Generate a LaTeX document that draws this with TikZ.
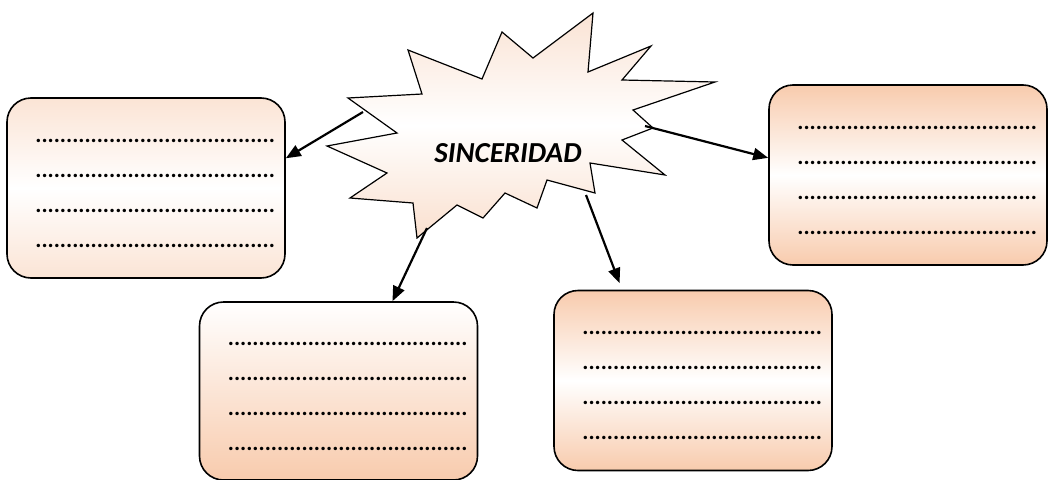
\documentclass[tikz,border=0pt]{standalone}
\usepackage{fontspec}
\setmainfont{Carlito}
\usetikzlibrary{arrows.meta,calc}

\definecolor{peachsoft}{HTML}{FBE4D5}
\definecolor{peachdeep}{HTML}{F8CBAD}
\definecolor{burstedge}{HTML}{FAE3D4}

\newcommand{\dotrow}{.......................................}
\newcommand{\dotlines}{\rule{0pt}{14pt}\dotrow\\ \dotrow\\ \dotrow\\ \dotrow}

\tikzset{
  panel/.style={draw, line width=1.6pt, rounded corners=24pt,
    minimum width=278pt, minimum height=180pt, text width=258pt,
    align=right, inner sep=0pt, font=\fontsize{23}{35}\selectfont\bfseries},
  banded/.style={top color=#1, bottom color=#1, middle color=white},
  fading/.style={top color=white, bottom color=#1},
  burst/.style={draw, line width=1.2pt, top color=burstedge,
    bottom color=burstedge!85!peachdeep, middle color=white},
  link/.style={line width=2.2pt, -{Triangle[length=15pt,width=12pt]}}
}

\begin{document}
\begin{tikzpicture}[x=1pt, y=-1pt]
  \useasboundingbox (0,0) rectangle (1048,479);

  \draw [burst] (593,13) -- (588,72) -- (651,46) -- (622,80) -- (715,82)
    -- (633,110) -- (653,128) -- (622,140) -- (665,175) -- (590,163)
    -- (595,193) -- (547,180) -- (537,208) -- (505,193) -- (483,218)
    -- (457,205) -- (417,238) -- (413,203) -- (350,198) -- (387,173)
    -- (327,146) -- (397,133) -- (348,98) -- (422,94) -- (408,50)
    -- (482,79) -- (502,32) -- (533,58) -- cycle;

  \node (sinc) at (508,153) {\fontsize{29}{32}\selectfont\bfseries\itshape SINCERIDAD};

  \node [panel, banded=peachsoft] (izq) at (146,188) {\dotlines};
  \node [panel, banded=peachdeep] (der) at (908,175) {\dotlines};
  \node [panel, fading=peachdeep, minimum height=178pt] (abizq) at (338.5,391) {\dotlines};
  \node [panel, banded=peachdeep] (abder) at (693,380.5) {\dotlines};

  \coordinate (p1) at (363,112);
  \coordinate (p2) at (645,126);
  \coordinate (p3) at (427,228);
  \coordinate (p4) at (586,195);

  \draw [link] (p1) -- (izq.12);
  \draw [link] (p2) -- (der.173);
  \draw [link] (p3) -- (abizq.59);
  \draw [link, shorten >=7pt] (p4) -- (abder.128);
\end{tikzpicture}
\end{document}
